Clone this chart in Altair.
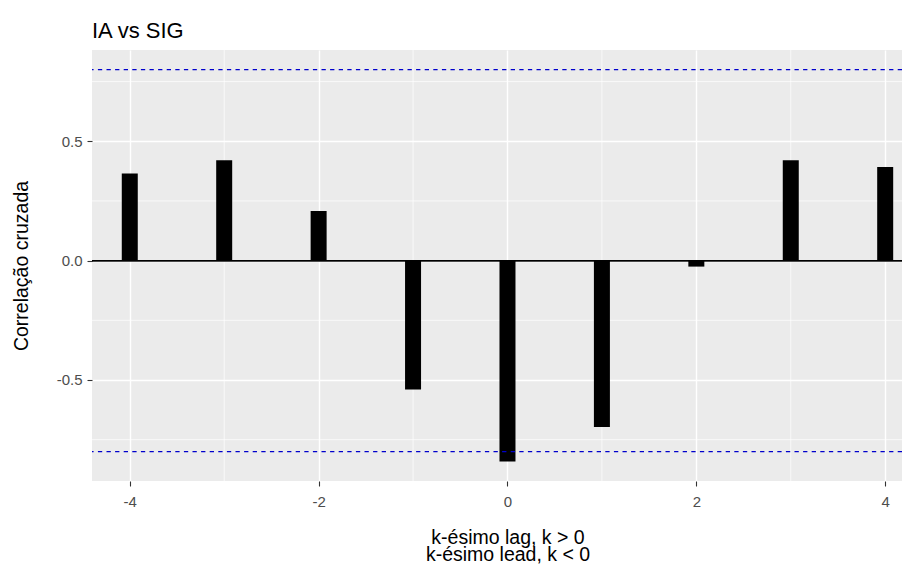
import altair as alt
import pandas as pd

# ---- data ----
lags = [-4, -3, -2, -1, 0, 1, 2, 3, 4]
ccf_values = [0.365, 0.421, 0.208, -0.540, -0.841, -0.697, -0.025, 0.421, 0.392]
conf_limits = [0.8002, -0.8002]
x_major = [-4, -2, 0, 2, 4]
x_minor = [-3, -1, 1, 3]
y_major = [-0.5, 0.0, 0.5]
y_minor = [-0.75, -0.25, 0.25, 0.75]

# panel is cropped at the right edge in the reference
X_DOMAIN = [-4.4, 4.178]
Y_DOMAIN = [-0.9231, 0.8823]

FONT = "Liberation Sans"

bars_df = pd.DataFrame({"lag": lags, "ccf": ccf_values})
conf_df = pd.DataFrame({"lim": conf_limits})
xminor_df = pd.DataFrame({"v": x_minor})
yminor_df = pd.DataFrame({"v": y_minor})

xscale = alt.Scale(domain=X_DOMAIN, nice=False, zero=False)
yscale = alt.Scale(domain=Y_DOMAIN, nice=False, zero=False)

x_axis = alt.Axis(
    values=x_major,
    labelExpr="toString(datum.value)",
    labelPadding=8,
    title=["k-ésimo lag, k > 0", "k-ésimo lead, k < 0"],
    titleX=415.5,
    titleY=62,
    titleBaseline="alphabetic",
    titleAlign="center",
    titleLineHeight=17,
)
y_axis = alt.Axis(
    values=y_major,
    labelExpr="replace(format(datum.value, '.1f'), '\u2212', '-')",
    labelPadding=5,
    title="Correlação cruzada",
    titleX=-65,
    titleY=215.5,
    titleBaseline="alphabetic",
    titleAlign="center",
    titleAngle=270,
)

minor_x = alt.Chart(xminor_df).mark_rule(color="white", strokeWidth=0.7).encode(
    x=alt.X("v:Q", scale=xscale, axis=x_axis)
)
minor_y = alt.Chart(yminor_df).mark_rule(color="white", strokeWidth=0.7).encode(
    y=alt.Y("v:Q", scale=yscale, axis=y_axis)
)

bars = alt.Chart(bars_df).mark_rule(color="black", strokeWidth=16, strokeCap="butt").encode(
    x=alt.X("lag:Q", scale=xscale, axis=x_axis),
    y=alt.Y("ccf:Q", scale=yscale, axis=y_axis),
    y2=alt.datum(0),
)

zero_line = (
    alt.Chart(bars_df)
    .transform_calculate(zero="0")
    .mark_rule(color="black", strokeWidth=1)
    .encode(y=alt.Y("zero:Q", scale=yscale, axis=y_axis))
)

conf = alt.Chart(conf_df).mark_rule(color="#0000CC", strokeWidth=1.4, strokeDash=[4.3, 4.3]).encode(
    y=alt.Y("lim:Q", scale=yscale, axis=y_axis)
)

chart = (
    alt.layer(minor_x, minor_y, bars, zero_line, conf)
    .properties(
        width=810,
        height=431,
        autosize=alt.AutoSizeParams(type="none"),
        padding={"left": 84, "top": 42, "right": 0, "bottom": 83},
        title=alt.TitleParams(
            "IA vs SIG",
            anchor="start",
            frame="group",
            font=FONT,
            fontSize=22,
            fontWeight="normal",
            color="black",
            baseline="alphabetic",
            offset=14,
            dy=24,
        ),
    )
    .configure_view(fill="#EBEBEB", stroke=None)
    .configure_axis(
        domain=False,
        grid=True,
        gridColor="white",
        gridWidth=1.4,
        tickColor="#333333",
        tickWidth=1.1,
        tickSize=5,
        labelColor="#4D4D4D",
        labelFont=FONT,
        labelFontSize=15,
        titleFont=FONT,
        titleFontSize=19.5,
        titleFontWeight="normal",
        titleColor="black",
    )
)

chart.save("out.html", embed_options={"renderer": "svg", "actions": False})
